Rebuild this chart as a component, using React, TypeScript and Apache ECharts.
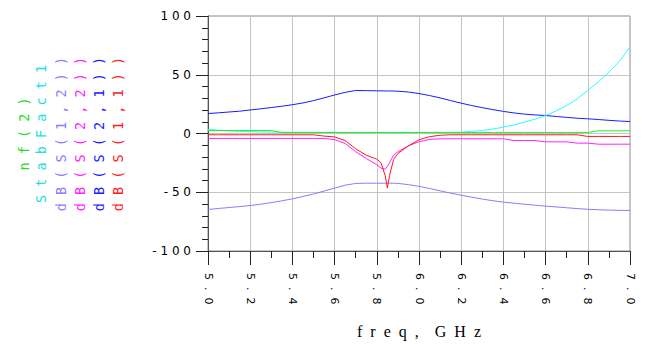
import React, { useEffect, useRef } from "react";
import * as echarts from "echarts";

// frequency points (GHz)
const freq = [
  5.0, 5.05, 5.1, 5.15, 5.2, 5.25, 5.3, 5.35, 5.4, 5.45, 5.5, 5.55, 5.6, 5.65, 5.7, 5.75, 5.8,
  5.82, 5.84, 5.85, 5.86, 5.88,
  5.9, 5.95, 6.0, 6.05, 6.1, 6.15, 6.2, 6.25, 6.3, 6.35, 6.4, 6.45, 6.5, 6.55, 6.6, 6.65, 6.7,
  6.75, 6.8, 6.85, 6.9, 6.95, 7.0,
];

const dbS21 = [
  17, 17.6, 18.3, 19, 20, 21, 22.1, 23.2, 24.5, 26, 28, 30.3, 32.8, 35, 36.6, 36.5, 36.3,
  36.3, 36.2, 36.2, 36.2, 36.1,
  36, 35.3, 34, 32.3, 30.3, 28, 25.8, 23.8, 22, 20.3, 18.8, 17.5, 16.5, 15.8, 15.3, 14.5, 13.7,
  13, 12.5, 11.9, 11.2, 10.6, 10.2,
];

const dbS12 = [
  -64.7, -63.8, -63, -62.2, -61.3, -60.2, -58.8, -57.3, -55.6, -53.6, -51.5, -49, -46.5, -44,
  -42.5, -42.3, -42.3,
  -42.3, -42.3, -42.3, -42.3, -42.3,
  -42.5, -43.5, -45, -46.8, -48.8, -50.8, -52.5, -54.2, -55.8, -57.2, -58.4, -59.3, -60.2, -61,
  -61.8, -62.5, -63.2, -63.9, -64.5, -64.9, -65.2, -65.4, -65.5,
];

const stabFact1 = [
  3.4, 2.8, 2.3, 1.8, 1.5, 1.3, 1.2, 1.1, 1.0, 1.0, 1.0, 1.0, 1.0, 1.0, 1.0, 1.0, 1.0,
  1.0, 1.0, 1.0, 1.0, 1.0,
  1.0, 1.0, 1.0, 1.0, 1.0, 1.0, 1.1, 1.8, 2.6, 3.8, 5.4, 7.3, 9.6, 12.3, 15.3, 19.3, 23.8,
  29.5, 36.6, 44, 52.2, 61.5, 73.5,
];

const nf2 = [
  2.5, 2.5, 2.5, 2.5, 2.5, 2.5, 2.5, 0.8, 0.8, 0.8, 0.8, 0.8, 0.8, 0.8, 0.8, 0.8, 0.8,
  0.8, 0.8, 0.8, 0.8, 0.8,
  0.8, 0.8, 0.8, 0.8, 0.8, 0.8, 0.8, 0.8, 0.8, 0.8, 0.8, 0.8, 0.8, 0.8, 0.8, 0.8, 0.8,
  0.8, 0.8, 2.3, 2.3, 2.3, 2.3,
];

const dbS11 = [
  -1.1, -1.1, -1.1, -1.1, -1.1, -1.1, -1.1, -1.1, -1.1, -1.1, -1.1, -2.2, -2.9, -6, -13, -18.5,
  -21.8,
  -25, -36, -46.5, -36, -22,
  -17, -10.5, -5.3, -2.7, -1.5, -1.1, -1.1, -1.1, -1.1, -1.1, -1.1, -1.1, -1.1, -1.1, -1.1,
  -1.1, -1.1, -1.1, -2.5, -2.5, -2.5, -2.5, -2.5,
];

const dbS22 = [
  -4.2, -4.2, -4.2, -4.2, -4.2, -4.2, -4.2, -4.2, -4.2, -4.2, -4.2, -4.3, -5.2, -8.5, -15.5,
  -21.3, -26.5,
  -29.5, -30.5, -28, -25, -18.3,
  -15.5, -10.5, -7, -5, -4.6, -4.5, -4.5, -4.5, -4.5, -4.5, -4.5, -6, -6, -6, -7.1, -7.1, -7.1,
  -8.2, -8.2, -9.1, -9.1, -9.1, -9.1,
];

const seriesNames = ["dB(S(1,2))", "dB(S(2,2))", "dB(S(2,1))", "dB(S(1,1))", "StabFact1", "nf(2)"];
const seriesValues = [dbS12, dbS22, dbS21, dbS11, stabFact1, nf2];
const seriesColors = ["#8a7cff", "#ff22ff", "#1a1aff", "#ff1a1a", "#22ffff", "#22ee22"];

// legend columns (left side, rotated), drawn left to right
const legendNames = ["nf(2)", "StabFact1", "dB(S(1,2))", "dB(S(2,2))", "dB(S(2,1))", "dB(S(1,1))"];
const legendColors = ["#22dd22", "#22e0e0", "#8a7cff", "#ff22ff", "#1a1aff", "#ff1a1a"];
const legendX = [24, 41, 61, 80, 99, 118];

const xAxisTitle = "freq, GHz";

const spaced = (s: string, sep = " ") => s.split("").join(sep);

export default function App() {
  const ref = useRef<HTMLDivElement>(null);

  useEffect(() => {
    if (!ref.current) return;
    const chart = echarts.init(ref.current, null, { renderer: "svg" });

    const series = seriesNames.map((name, k) => ({
      name,
      type: "line",
      data: freq.map((f, i) => [f, seriesValues[k][i]]),
      symbol: "none",
      showSymbol: false,
      lineStyle: { width: 1, color: seriesColors[k] },
      itemStyle: { color: seriesColors[k] },
      z: 2 + k,
    }));

    const graphic = legendNames.map((t, i) => ({
      type: "text",
      x: legendX[i],
      y: 134,
      rotation: Math.PI / 2,
      style: {
        text: spaced(t),
        fill: legendColors[i],
        fontSize: 13.5,
        fontFamily: "DejaVu Sans Mono",
        align: "center",
        verticalAlign: "middle",
        textAlign: "center",
        textVerticalAlign: "middle",
      },
    }));

    chart.setOption({
      animation: false,
      backgroundColor: "#ffffff",
      grid: {
        left: 208,
        right: 15,
        top: 16,
        bottom: 94,
        show: true,
        borderColor: "#8c8c8c",
        borderWidth: 1,
        containLabel: false,
      },
      xAxis: {
        type: "value",
        min: 5,
        max: 7,
        interval: 0.2,
        name: xAxisTitle.split(", ").map((w) => spaced(w, "  ")).join("  ,    "),
        nameLocation: "middle",
        nameGap: 72,
        nameTextStyle: {
          fontFamily: "Liberation Serif",
          fontSize: 16,
          color: "#000",
          verticalAlign: "top",
        },
        axisLine: { show: true, onZero: false, lineStyle: { color: "#555", width: 1 } },
        axisTick: { show: true, length: 14, lineStyle: { color: "#222" } },
        minorTick: { show: true, splitNumber: 2, length: 7, lineStyle: { color: "#222" } },
        splitLine: { show: true, lineStyle: { color: "#c4c4c4", width: 1 } },
        axisLabel: {
          rotate: -90,
          margin: 22,
          fontSize: 11,
          fontFamily: "DejaVu Sans",
          color: "#000",
          showMinLabel: true,
          showMaxLabel: true,
          hideOverlap: false,
          formatter: (v: number) => spaced(v.toFixed(1), "  "),
        },
      },
      yAxis: {
        type: "value",
        min: -100,
        max: 100,
        interval: 50,
        axisLine: { show: true, onZero: false, lineStyle: { color: "#555", width: 1 } },
        axisTick: { show: true, length: 12, lineStyle: { color: "#222" } },
        minorTick: { show: true, splitNumber: 5, length: 6, lineStyle: { color: "#222" } },
        splitLine: { show: true, lineStyle: { color: "#c4c4c4", width: 1 } },
        axisLabel: {
          margin: 17,
          fontSize: 12,
          fontFamily: "DejaVu Sans",
          color: "#000",
          formatter: (v: number) => spaced(String(v)),
        },
      },
      graphic,
      series,
    });

    return () => chart.dispose();
  }, []);

  return (
    <div
      ref={ref}
      style={{ position: "absolute", left: 0, top: 0, width: 645, height: 345 }}
    />
  );
}
